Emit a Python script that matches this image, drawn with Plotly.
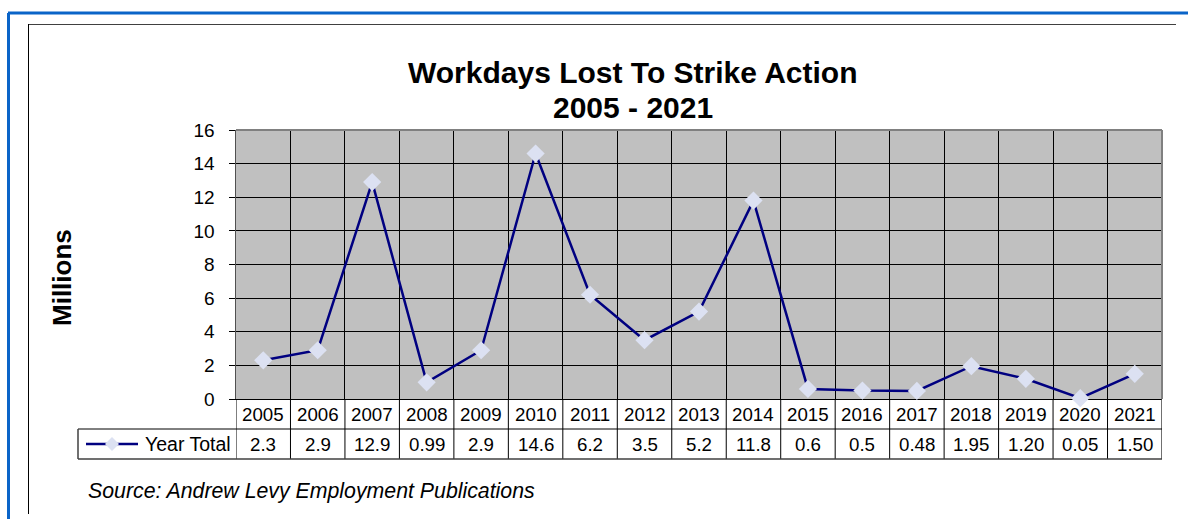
import plotly.graph_objects as go

# Workdays lost to strike action, millions
years = ["2005", "2006", "2007", "2008", "2009", "2010", "2011", "2012", "2013",
         "2014", "2015", "2016", "2017", "2018", "2019", "2020", "2021"]
value_labels = ["2.3", "2.9", "12.9", "0.99", "2.9", "14.6", "6.2", "3.5", "5.2",
                "11.8", "0.6", "0.5", "0.48", "1.95", "1.20", "0.05", "1.50"]
values = [float(v) for v in value_labels]
y_ticks = [0, 2, 4, 6, 8, 10, 12, 14, 16]

series_name = "Year Total"
title_lines = ["Workdays Lost To Strike Action", "2005 - 2021"]
y_title = "Millions"
source_note = "Source: Andrew Levy Employment Publications"

W, H = 1188, 519
FONT = "Arial, Liberation Sans, sans-serif"
LINE_COLOR = "#000080"
MARKER_COLOR = "#DCE1F2"
TABLE_FONT = dict(family=FONT, size=18.7, color="#000")


def px(x):
    return x / W


def py(y):
    return 1 - y / H


# plot area in pixels
PL, PR, PT, PB = 236, 1162, 130, 399
ROW1_B, ROW2_B = 429, 459
LEG_L = 78

n = len(years)
xs = list(range(n))

fig = go.Figure()
fig.add_trace(go.Scatter(
    x=xs, y=values, mode="lines+markers", name=series_name,
    line=dict(color=LINE_COLOR, width=2.5),
    marker=dict(symbol="diamond", size=14, color=MARKER_COLOR, line=dict(width=0)),
    cliponaxis=False, hoverinfo="skip", showlegend=False,
))

shapes = []
annotations = []

# top and right edges of the plot frame
shapes.append(dict(type="line", xref="x domain", yref="y domain",
                   x0=0, x1=1, y0=1, y1=1, line=dict(color="#808080", width=2)))
shapes.append(dict(type="line", xref="x domain", yref="y domain",
                   x0=1, x1=1, y0=0, y1=1, line=dict(color="#808080", width=2)))

# data table: column separators
for i in range(n):
    shapes.append(dict(type="line", xref="x", yref="paper",
                       x0=i - 0.5, x1=i - 0.5, y0=py(PB), y1=py(ROW2_B),
                       line=dict(color="#000000", width=1)))
shapes.append(dict(type="line", xref="x", yref="paper",
                   x0=n - 0.5, x1=n - 0.5, y0=py(PB), y1=py(ROW2_B),
                   line=dict(color="#404040", width=1.5)))
# data table: row lines
shapes.append(dict(type="line", xref="paper", yref="paper",
                   x0=px(LEG_L), x1=px(PR), y0=py(ROW1_B), y1=py(ROW1_B),
                   line=dict(color="#000000", width=1)))
shapes.append(dict(type="line", xref="paper", yref="paper",
                   x0=px(LEG_L), x1=px(PR), y0=py(ROW2_B), y1=py(ROW2_B),
                   line=dict(color="#404040", width=1.5)))
shapes.append(dict(type="line", xref="paper", yref="paper",
                   x0=px(LEG_L), x1=px(LEG_L), y0=py(ROW1_B), y1=py(ROW2_B),
                   line=dict(color="#404040", width=1.5)))

# legend key in the table
key_y = (ROW1_B + ROW2_B) / 2
shapes.append(dict(type="line", xref="paper", yref="paper",
                   x0=px(86), x1=px(138), y0=py(key_y), y1=py(key_y),
                   line=dict(color=LINE_COLOR, width=2.5)))
kx, kr = 112, 7
shapes.append(dict(type="path", xref="paper", yref="paper",
                   path=f"M {px(kx - kr)} {py(key_y)} L {px(kx)} {py(key_y - kr)} "
                        f"L {px(kx + kr)} {py(key_y)} L {px(kx)} {py(key_y + kr)} Z",
                   fillcolor=MARKER_COLOR, line=dict(width=0)))
annotations.append(dict(xref="paper", yref="paper", x=px(143), y=py(key_y),
                        text=series_name, showarrow=False, xanchor="left",
                        yanchor="middle", font=dict(family=FONT, size=19.5, color="#000")))

# table cells
for i, (yr, lab) in enumerate(zip(years, value_labels)):
    annotations.append(dict(xref="x", yref="paper", x=i, y=py((PB + ROW1_B) / 2),
                            text=yr, showarrow=False, xanchor="center", yanchor="middle",
                            font=TABLE_FONT))
    annotations.append(dict(xref="x", yref="paper", x=i, y=py(key_y),
                            text=lab, showarrow=False, xanchor="center", yanchor="middle",
                            font=TABLE_FONT))

# title, one annotation per line for tighter leading
for line_text, cy in zip(title_lines, [72.5, 107.5]):
    annotations.append(dict(xref="paper", yref="paper", x=px(633), y=py(cy),
                            text="<b>" + line_text + "</b>",
                            showarrow=False, xanchor="center", yanchor="middle",
                            font=dict(family=FONT, size=30, color="#000")))
# y axis title
annotations.append(dict(xref="paper", yref="paper", x=px(62), y=py(278),
                        text="<b>" + y_title + "</b>", textangle=-90,
                        showarrow=False, xanchor="center", yanchor="middle",
                        font=dict(family=FONT, size=26, color="#000")))
# source note
annotations.append(dict(xref="paper", yref="paper", x=px(86), y=py(491),
                        text="<i>" + source_note + "</i>", showarrow=False,
                        xanchor="left", yanchor="middle",
                        font=dict(family=FONT, size=21.3, color="#000")))

# outer frame
shapes.append(dict(type="line", xref="paper", yref="paper",
                   x0=px(8), x1=1, y0=py(13), y1=py(13),
                   line=dict(color="#0A64C8", width=3)))
shapes.append(dict(type="line", xref="paper", yref="paper",
                   x0=px(8.5), x1=px(8.5), y0=py(13), y1=0,
                   line=dict(color="#0A64C8", width=3)))
# chart area frame
shapes.append(dict(type="line", xref="paper", yref="paper",
                   x0=px(28), x1=px(1176), y0=py(24.5), y1=py(24.5),
                   line=dict(color="#404040", width=1)))
shapes.append(dict(type="line", xref="paper", yref="paper",
                   x0=px(28.5), x1=px(28.5), y0=py(24), y1=py(514),
                   line=dict(color="#000000", width=1)))

fig.update_layout(
    width=W, height=H,
    margin=dict(l=0, r=0, t=0, b=0, pad=0, autoexpand=False),
    paper_bgcolor="#FFFFFF",
    plot_bgcolor="#C0C0C0",
    showlegend=False,
    hovermode=False,
    shapes=shapes,
    annotations=annotations,
    xaxis=dict(
        domain=[px(PL), px(PR)], range=[-0.5, n - 0.5],
        tickvals=[i + 0.5 for i in range(n - 1)],
        showticklabels=False, ticks="", showgrid=True,
        gridcolor="#000000", gridwidth=1, zeroline=False,
        showline=True, linecolor="#000000", linewidth=1, mirror=False,
        layer="below traces", automargin=False, fixedrange=True,
    ),
    yaxis=dict(
        domain=[py(PB), py(PT)], range=[0, 16],
        tickvals=y_ticks, ticktext=[str(t) for t in y_ticks],
        ticks="outside", ticklen=6, tickcolor="#000000", tickwidth=1,
        ticklabelstandoff=10,
        tickfont=dict(family=FONT, size=19, color="#000"),
        showgrid=True, gridcolor="#000000", gridwidth=1,
        zeroline=False, showline=True, linecolor="#505050", linewidth=1.5,
        mirror=False, layer="below traces", automargin=False, fixedrange=True,
    ),
)

fig.write_html("out.html", config={"displayModeBar": False, "staticPlot": True})
